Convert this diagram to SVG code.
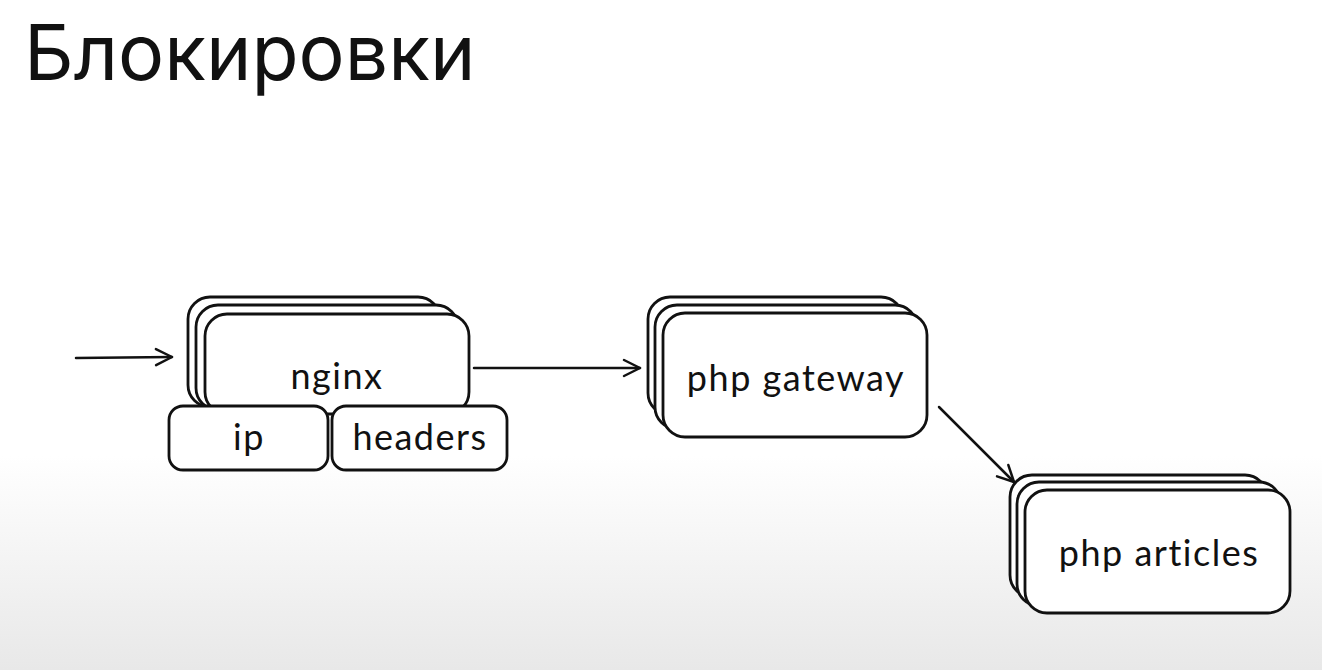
<svg xmlns="http://www.w3.org/2000/svg" width="1322" height="670" viewBox="0 0 1322 670">
<defs>
<linearGradient id="bg" x1="0" y1="0" x2="0" y2="1">
<stop offset="0" stop-color="#ffffff"/>
<stop offset="0.68" stop-color="#ffffff"/>
<stop offset="1" stop-color="#e8e8e8"/>
</linearGradient>
<marker id="chev" viewBox="0 0 20 20" refX="18" refY="10" markerWidth="20" markerHeight="20" markerUnits="userSpaceOnUse" orient="auto">
<path d="M2,2 L18,10 L2,18" fill="none" stroke="#111" stroke-width="2.5" stroke-linecap="round" stroke-linejoin="round"/>
</marker>
</defs>
<style>
.box{fill:#fff;stroke:#111;stroke-width:2.8}
.lbl{font-family:"Lato","Noto Sans",sans-serif;font-size:36px;letter-spacing:1.5px;fill:#111;text-anchor:middle}
.con{fill:none;stroke:#111;stroke-width:2.5;stroke-linecap:round}
</style>
<rect width="1322" height="670" fill="url(#bg)"/>
<text x="24" y="80" font-family="Inter,'Noto Sans',sans-serif" font-size="77" fill="#111">Блокировки</text>

<g id="connectors">
<path class="con" d="M76,358 L172,357" marker-end="url(#chev)"/>
<path class="con" d="M474,368 L640,368" marker-end="url(#chev)"/>
<path class="con" d="M939,407 L1014,482" marker-end="url(#chev)"/>
</g>

<g id="nginx">
<rect class="box" x="188" y="297" width="252" height="110" rx="22"/>
<rect class="box" x="196" y="305" width="262" height="105" rx="22"/>
<rect class="box" x="205" y="314" width="264" height="100" rx="22"/>
<text class="lbl" x="337" y="389">nginx</text>
</g>
<g id="ip">
<rect class="box" x="169" y="406" width="159" height="64" rx="14"/>
<text class="lbl" x="249" y="450">ip</text>
</g>
<g id="headers">
<rect class="box" x="332" y="406" width="175" height="64" rx="14"/>
<text class="lbl" x="420" y="450">headers</text>
</g>

<g id="php-gateway">
<rect class="box" x="648" y="297" width="255" height="118" rx="22"/>
<rect class="box" x="655" y="305" width="262" height="124" rx="22"/>
<rect class="box" x="663" y="313" width="264" height="124" rx="22"/>
<text class="lbl" x="796" y="391">php gateway</text>
</g>

<g id="php-articles">
<rect class="box" x="1010" y="475" width="257" height="122" rx="22"/>
<rect class="box" x="1017" y="482" width="264" height="124" rx="22"/>
<rect class="box" x="1025" y="490" width="265" height="123" rx="22"/>
<text class="lbl" x="1159" y="566">php articles</text>
</g>
</svg>
